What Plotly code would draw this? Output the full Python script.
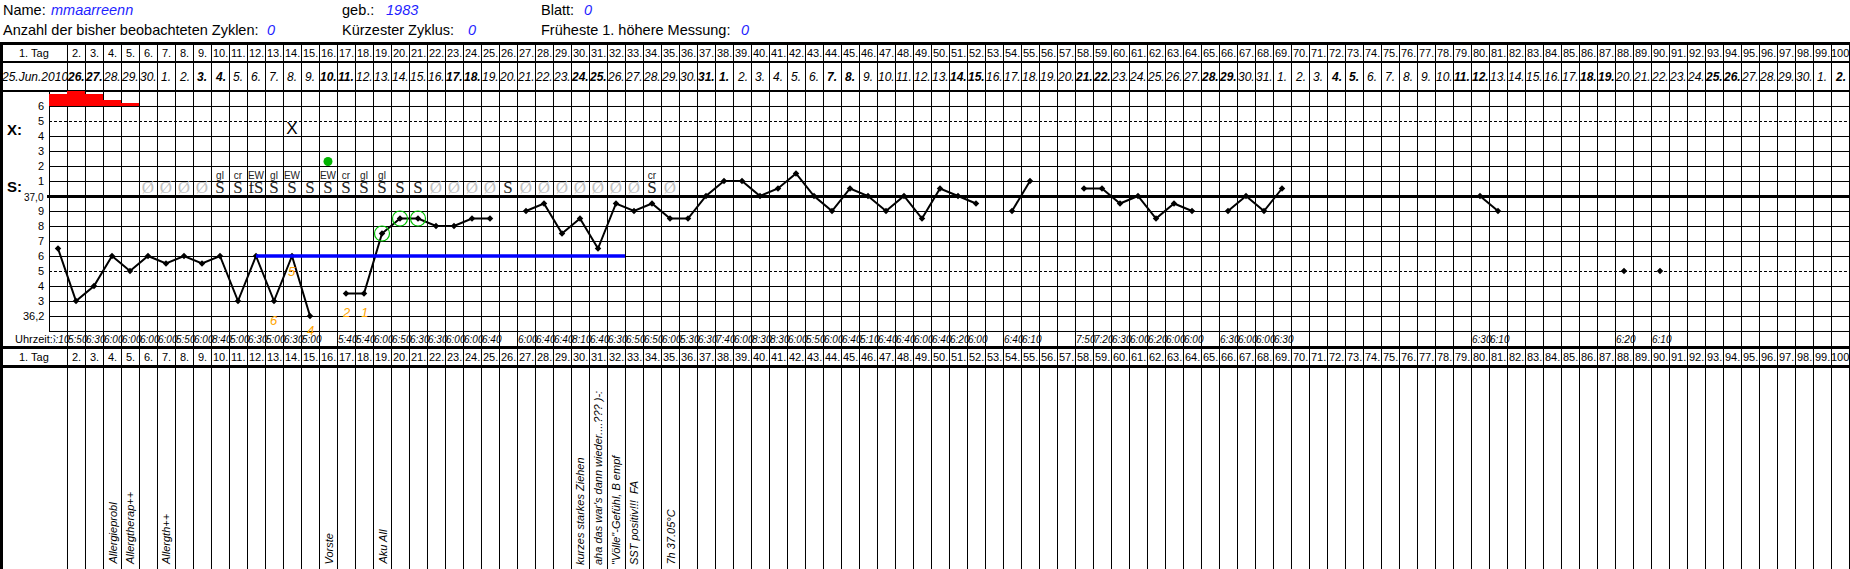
import datetime
import plotly.graph_objects as go

W, H = 1850, 569

# ---------------- chart values ----------------
patient_name = "mmaarreenn"
birth_year = "1983"
sheet_number = "0"
cycles_observed = "0"
shortest_cycle = "0"
earliest_first_high = "0"

cycle_start = datetime.date(2010, 6, 25)
days = list(range(1, 101))

temps = [
    36.65, 36.30, 36.40, 36.60, 36.50, 36.60, 36.55, 36.60, 36.55, 36.60,   # 1-10
    36.30, 36.60, 36.30, 36.60, 36.20, None, 36.35, 36.35, 36.75, 36.85,    # 11-20
    36.85, 36.80, 36.80, 36.85, 36.85, None, 36.90, 36.95, 36.75, 36.85,    # 21-30
    36.65, 36.95, 36.90, 36.95, 36.85, 36.85, 37.00, 37.10, 37.10, 37.00,   # 31-40
    37.05, 37.15, 37.00, 36.90, 37.05, 37.00, 36.90, 37.00, 36.85, 37.05,   # 41-50
    37.00, 36.95, None, 36.90, 37.10, None, None, 37.05, 37.05, 36.95,      # 51-60
    37.00, 36.85, 36.95, 36.90, None, 36.90, 37.00, 36.90, 37.05, None,     # 61-70
    None, None, None, None, None, None, None, None, None, 37.00,            # 71-80
    36.90, None, None, None, None, None, None, 36.50, None, 36.50,          # 81-90
    None, None, None, None, None, None, None, None, None, None,             # 91-100
]

# measuring time, one entry per measured day (in order of the measured days)
measure_times = [
    "6:10", "5:50", "6:30", "6:00", "6:00", "6:00", "6:00", "5:50", "6:00", "8:40",
    "5:00", "6:30", "5:00", "6:30", "5:00",
    "5:40", "5:40", "6:00", "6:50", "6:30", "6:30", "6:00", "6:00", "6:40",
    "6:00", "6:40", "6:40", "8:10", "6:40", "6:30", "6:50", "6:50", "6:00", "5:30",
    "6:30", "7:40", "6:00", "8:30", "8:30", "6:00", "5:50", "6:00", "6:40", "5:10",
    "6:40", "6:40", "6:00", "6:40", "6:20", "6:00",
    "6:40", "6:10",
    "7:50", "7:20", "6:30", "6:00", "6:20", "6:00", "6:00",
    "6:30", "6:00", "6:00", "6:30",
    "6:30", "6:10",
    "6:20",
    "6:10",
]

bleeding_days = [1, 2, 3, 4, 5]
bleeding_level = [4, 5, 4, 2, 1]

mucus_days = [6, 7, 8, 9, 10, 11, 12, 13, 14, 15, 16, 17, 18, 19, 20,
              21, 22, 23, 24, 25, 26, 27, 28, 29, 30, 31, 32, 33, 34, 35]
mucus_symbols = ["Ø", "Ø", "Ø", "Ø", "S", "S", "fS", "S", "S", "S", "S", "S", "S", "S", "S",
                 "S", "Ø", "Ø", "Ø", "Ø", "S", "Ø", "Ø", "Ø", "Ø", "Ø", "Ø", "Ø", "S", "Ø"]

mucus_quality_days = [10, 11, 12, 13, 14, 16, 17, 18, 19, 34]
mucus_quality = ["gl", "cr", "EW", "gl", "EW", "EW", "cr", "gl", "gl", "cr"]

x_mark_days = [14]
x_mark_values = [4.4]

green_dot_days = [16]
green_dot_values = [2.3]

count_days = [13, 14, 15, 17, 18]
count_labels = ["6", "5", "4", "2", "1"]

circled_days = [19, 20, 21]

cover_line_level = 36.6
cover_line_from = 12
cover_line_to = 32.5

note_days = [4, 5, 7, 16, 19, 30, 31, 32, 33, 35]
note_texts = ["Allergieprobl", "Allergtherap++", "Allergth++", "Vorste", "Aku All",
              "kurzes starkes Ziehen", "aha das war's dann wieder....??? )-:",
              "\"Völle\"-Gefühl, B empf", "SST positiv!!!  FA", "7h 37.05°C"]

x_row_labels = ["6", "5", "4", "3", "2", "1"]
x_row_values = [6, 5, 4, 3, 2, 1]
temp_row_labels = ["37,0", "9", "8", "7", "6", "5", "4", "3", "36,2"]
temp_row_values = [37.0, 36.9, 36.8, 36.7, 36.6, 36.5, 36.4, 36.3, 36.2]

# ---------------- geometry ----------------
DAY1_PX = 58.0        # centre of day 1 column
COL_PX = 18.0         # width of a day column
T_REF, T_REF_PX, PX_PER_DEG = 36.1, 331.0, 150.0

FONT = "Liberation Sans, Arial, sans-serif"
SERIF = "Liberation Serif, Times New Roman, serif"


def day_px(d):
    return DAY1_PX + (d - 1) * COL_PX


def t_to_px(t):
    return T_REF_PX - (t - T_REF) * PX_PER_DEG


def px_to_t(py):
    return T_REF + (T_REF_PX - py) / PX_PER_DEG


x_range = [1 - DAY1_PX / COL_PX, 1 + (W - DAY1_PX) / COL_PX]
y_range = [px_to_t(H), px_to_t(0)]
y2_range = [(y_range[0] - 37.0) / 0.1, (y_range[1] - 37.0) / 0.1]   # X-section units
BLEED_BASE_PX = t_to_px(37.6)
BLEED_PX = 3.0
y3_range = [(BLEED_BASE_PX - H) / BLEED_PX, BLEED_BASE_PX / BLEED_PX]

fig = go.Figure()

# bleeding bars
fig.add_trace(go.Bar(x=bleeding_days, y=bleeding_level, yaxis="y3", width=1.0,
                     marker=dict(color="#ff0000", line=dict(width=0)), hoverinfo="skip"))

# temperature curve
fig.add_trace(go.Scatter(x=days, y=temps, mode="lines+markers", connectgaps=False,
                         line=dict(color="black", width=2),
                         marker=dict(symbol="diamond", size=5, color="black"),
                         hoverinfo="skip"))

# cover line
fig.add_trace(go.Scatter(x=[cover_line_from, cover_line_to], y=[cover_line_level, cover_line_level],
                         mode="lines", line=dict(color="#0000ff", width=3.5), hoverinfo="skip"))

# circled high values
fig.add_trace(go.Scatter(x=circled_days, y=[temps[d - 1] for d in circled_days], mode="markers",
                         marker=dict(symbol="circle-open", size=15, color="#00c000", line=dict(width=1.2)),
                         hoverinfo="skip"))

# mucus symbols
MUCUS_ROW = 0.5
fig.add_trace(go.Scatter(x=mucus_days, y=[MUCUS_ROW] * len(mucus_days), yaxis="y2", mode="text",
                         text=mucus_symbols, textposition="middle center",
                         textfont=dict(family=SERIF, size=17,
                                       color=["#c0c0c0" if s == "Ø" else "#222222" for s in mucus_symbols]),
                         hoverinfo="skip"))
QUALITY_ROW = 1.3
fig.add_trace(go.Scatter(x=mucus_quality_days, y=[QUALITY_ROW] * len(mucus_quality_days), yaxis="y2",
                         mode="text", text=mucus_quality, textposition="middle center",
                         textfont=dict(family=FONT, size=10, color="#222222"), hoverinfo="skip"))

# X mark and green dot
fig.add_trace(go.Scatter(x=x_mark_days, y=x_mark_values, yaxis="y2", mode="text", text=["X"] * len(x_mark_days),
                         textposition="middle center", textfont=dict(family=FONT, size=17, color="black"),
                         hoverinfo="skip"))
fig.add_trace(go.Scatter(x=green_dot_days, y=green_dot_values, yaxis="y2", mode="markers",
                         marker=dict(symbol="circle", size=9, color="#00b400"), hoverinfo="skip"))

# ---------------- grid lines ----------------
shapes = []


def add_lines(segs, width=1.0, dash="solid", color="black"):
    path = " ".join(f"M{x0 / W:.6f},{1 - y0 / H:.6f}L{x1 / W:.6f},{1 - y1 / H:.6f}" for x0, y0, x1, y1 in segs)
    shapes.append(dict(type="path", xref="paper", yref="paper", path=path, layer="below",
                       fillcolor="rgba(0,0,0,0)", line=dict(color=color, width=width, dash=dash)))


bounds = [day_px(d) + COL_PX / 2 for d in days]
add_lines([(b + 0.5, 43, b + 0.5, H) for b in bounds])
grid_left = day_px(1) - COL_PX / 2
add_lines([(grid_left + 0.5, t_to_px(37.7), grid_left + 0.5, t_to_px(36.1))])

thin_h, dash_h = [], []
for k in range(0, 16):
    t = round(36.1 + k * 0.1, 2)
    py = t_to_px(t)
    if abs(t - 37.0) < 1e-6:
        continue
    if abs(t - 36.5) < 1e-6 or abs(t - 37.5) < 1e-6:
        dash_h.append((grid_left, py + 0.5, W, py + 0.5))
    else:
        thin_h.append((grid_left, py + 0.5, W, py + 0.5))
add_lines(thin_h)
add_lines(dash_h, dash="3px,2px")
add_lines([(grid_left - 2, t_to_px(37.0) + 0.5, W, t_to_px(37.0) + 0.5)], width=3)
add_lines([(0, 43.5, W, 43.5), (0, 347.5, W, 347.5), (0, 366.5, W, 366.5)], width=3)
add_lines([(0, 62, W, 62), (0, t_to_px(37.7), W, t_to_px(37.7))], width=2)
add_lines([(1.5, 42, 1.5, H)], width=3)

# ---------------- text ----------------
ann = []


def label(text, x, y, size=11, xref="paper", xanchor="center", color="black",
          italic=False, bold=False, family=FONT, **kw):
    if bold:
        text = f"<b>{text}</b>"
    if italic:
        text = f"<i>{text}</i>"
    ann.append(dict(text=text, x=(x / W if xref == "paper" else x), y=1 - y / H, xref=xref, yref="paper",
                    xanchor=xanchor, yanchor="middle", showarrow=False,
                    font=dict(size=size, color=color, family=family), **kw))


BLUE = "#1f1fff"
HS = 14.5
# header block
label("Name:", 1, 10, HS, xanchor="left")
label(patient_name, 49, 10, HS, xanchor="left", color=BLUE, italic=True)
label("geb.:", 340, 10, HS, xanchor="left")
label(birth_year, 384, 10, HS, xanchor="left", color=BLUE, italic=True)
label("Blatt:", 539, 10, HS, xanchor="left")
label(sheet_number, 582, 10, HS, xanchor="left", color=BLUE, italic=True)
label("Anzahl der bisher beobachteten Zyklen:", 1, 30, HS, xanchor="left")
label(cycles_observed, 265, 30, HS, xanchor="left", color=BLUE, italic=True)
label("Kürzester Zyklus:", 340, 30, HS, xanchor="left")
label(shortest_cycle, 466, 30, HS, xanchor="left", color=BLUE, italic=True)
label("Früheste 1. höhere Messung:", 539, 30, HS, xanchor="left")
label(earliest_first_high, 739, 30, HS, xanchor="left", color=BLUE, italic=True)

# day-number rows (top and bottom)
for row_y in (53, 357):
    label("1. Tag", 34, row_y, 11)
    for d in days[1:]:
        label(f"{d}." if d < 100 else f"{d}", d, row_y, 11, xref="x")

# date row
for d in days:
    dt = cycle_start + datetime.timedelta(days=d - 1)
    weekend = dt.weekday() >= 5
    if d == 1:
        label(f"{dt.day}.{dt.strftime('%b')}.{dt.year}", 34, 77, 12, italic=True, bold=weekend)
    else:
        label(f"{dt.day}.", d, 77, 12, xref="x", italic=True, bold=weekend)

# row labels
for txt, v in zip(x_row_labels, x_row_values):
    label(txt, 46, t_to_px(37.0 + v * 0.1), 11, xanchor="right")
for txt, t in zip(temp_row_labels, temp_row_values):
    label(txt, 46, t_to_px(t) + (1 if txt == "37,0" else 0), 10 if txt == "37,0" else 11, xanchor="right")
label("X:", 14, 129, 15, bold=True)
label("S:", 14, 187, 15, bold=True)

# measuring times
measured_days = [d for d, t in zip(days, temps) if t is not None]
for d, tm in zip(measured_days, measure_times):
    label(tm, d - 0.5, 339, 10, xref="x", xanchor="left", italic=True, borderpad=0)
label("Uhrzeit:", 14, 339, 11, xanchor="left", bgcolor="white", borderpad=0)

# counting numbers under the low values
count_shift = {14: -15, 15: -14}
for d, txt in zip(count_days, count_labels):
    ann.append(dict(text=f"<i>{txt}</i>", x=d, y=temps[d - 1], xref="x", yref="y", showarrow=False,
                    yshift=count_shift.get(d, -19), font=dict(size=13, color="#ffa500", family=FONT)))

# notes (rotated)
for d, txt in zip(note_days, note_texts):
    ann.append(dict(text=f"<i>{txt}</i>", x=d, y=1 - 567 / H, xref="x", yref="paper", textangle=-90,
                    xanchor="center", yanchor="bottom", showarrow=False,
                    font=dict(size=11, color="black", family=FONT)))

fig.update_layout(
    width=W, height=H, autosize=False,
    margin=dict(l=0, r=0, t=0, b=0, pad=0),
    paper_bgcolor="white", plot_bgcolor="white",
    showlegend=False, bargap=0,
    xaxis=dict(range=x_range, visible=False, fixedrange=True),
    yaxis=dict(range=y_range, visible=False, fixedrange=True),
    yaxis2=dict(range=y2_range, visible=False, overlaying="y", fixedrange=True),
    yaxis3=dict(range=y3_range, visible=False, overlaying="y", fixedrange=True),
    shapes=shapes,
    annotations=ann,
)

fig.write_html("out.html", config={"displayModeBar": False, "staticPlot": True},
               post_script="document.body.style.margin='0';document.body.style.overflow='hidden';")
